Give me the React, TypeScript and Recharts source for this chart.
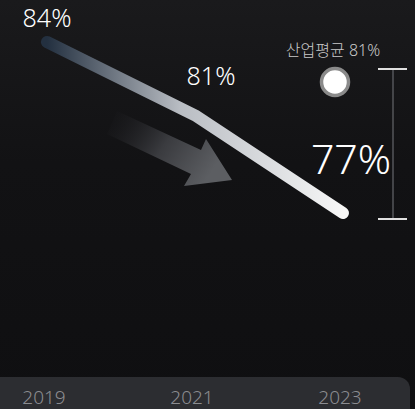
import { LineChart, Line, XAxis, YAxis, LabelList } from "recharts";

const YEARS = ["2019", "2021", "2023"];
const RATES = [84, 81, 77];
const INDUSTRY_AVG = 81;

const data = YEARS.map((year, i) => ({ year, rate: RATES[i] }));

// per-point label placement (relative to the point)
const LABEL_STYLE = [
  { dx: 0, dy: -15, size: 25 },
  { dx: 16, dy: -30, size: 25 },
  { dx: 8, dy: -39, size: 41 },
];

const FONT = "'Noto Sans', 'Noto Sans CJK KR', sans-serif";

const PointLabel = (props: any) => {
  const { x, y, value, index } = props;
  const s = LABEL_STYLE[index] || LABEL_STYLE[0];
  return (
    <text
      x={x + s.dx}
      y={y + s.dy}
      fill="#ffffff"
      fontSize={s.size}
      fontWeight={300}
      fontFamily={FONT}
      textAnchor="middle"
    >
      {value}%
    </text>
  );
};

const YearTick = (props: any) => {
  const { x, y, payload } = props;
  return (
    <text
      x={x - 3}
      y={y + 27}
      fill="#8b8c90"
      fontSize={19}
      fontWeight={300}
      fontFamily={FONT}
      textAnchor="middle"
    >
      {payload.value}
    </text>
  );
};

export default function App() {
  return (
    <div
      style={{
        position: "absolute",
        left: 0,
        top: 0,
        width: 415,
        height: 409,
        overflow: "hidden",
        background: "linear-gradient(180deg, #1a1a1c 0%, #121214 40%, #0f0f11 100%)",
      }}
    >
      {/* bottom band behind axis */}
      <div
        style={{
          position: "absolute",
          left: 0,
          top: 377,
          width: 410,
          height: 40,
          background: "#2c2d31",
          borderTopRightRadius: 12,
        }}
      />
      {/* decorations */}
      <svg width={415} height={409} style={{ position: "absolute", left: 0, top: 0 }}>
        <defs>
          <linearGradient id="arrowGrad" x1="0" y1="0" x2="1" y2="0.4">
            <stop offset="0%" stopColor="#1a1a1d" stopOpacity={0} />
            <stop offset="55%" stopColor="#3a3b3f" />
            <stop offset="100%" stopColor="#5c5e62" />
          </linearGradient>
        </defs>
        <polygon
          points="117,111 201,150 206,139 232,180 184,186 191,174 107,134"
          fill="url(#arrowGrad)"
        />
        <text
          x={333}
          y={56}
          fill="#c9c9c9"
          fontSize={16}
          fontWeight={300}
          fontFamily={FONT}
          textAnchor="middle"
        >
          산업평균 {INDUSTRY_AVG}%
        </text>
        <circle cx={335} cy={82} r={13.5} fill="#ffffff" stroke="#8a8a8a" strokeWidth={3.5} />
        <line x1={393} y1={69} x2={393} y2={219} stroke="#55565a" strokeWidth={1.5} />
        <line x1={378} y1={69} x2={407} y2={69} stroke="#e0e0e0" strokeWidth={2} />
        <line x1={378} y1={219} x2={407} y2={219} stroke="#e0e0e0" strokeWidth={2} />
      </svg>
      <div style={{ position: "absolute", left: 0, top: 0 }}>
        <LineChart
          width={415}
          height={409}
          data={data}
          margin={{ top: 42, right: 72, bottom: 0, left: 47 }}
        >
          <defs>
            <linearGradient id="lineGrad" x1="0" y1="0" x2="1" y2="0">
              <stop offset="0%" stopColor="#233040" />
              <stop offset="45%" stopColor="#b9bdc3" />
              <stop offset="100%" stopColor="#f7f7f7" />
            </linearGradient>
          </defs>
          <XAxis
            dataKey="year"
            axisLine={false}
            tickLine={false}
            tickSize={0}
            tickMargin={0}
            height={32}
            tick={<YearTick />}
            interval={0}
          />
          <YAxis hide domain={[70.29, 84]} />
          <Line
            type="linear"
            dataKey="rate"
            stroke="url(#lineGrad)"
            strokeWidth={12}
            strokeLinecap="round"
            strokeLinejoin="round"
            dot={false}
            activeDot={false}
            isAnimationActive={false}
          >
            <LabelList dataKey="rate" content={<PointLabel />} />
          </Line>
        </LineChart>
      </div>
    </div>
  );
}
